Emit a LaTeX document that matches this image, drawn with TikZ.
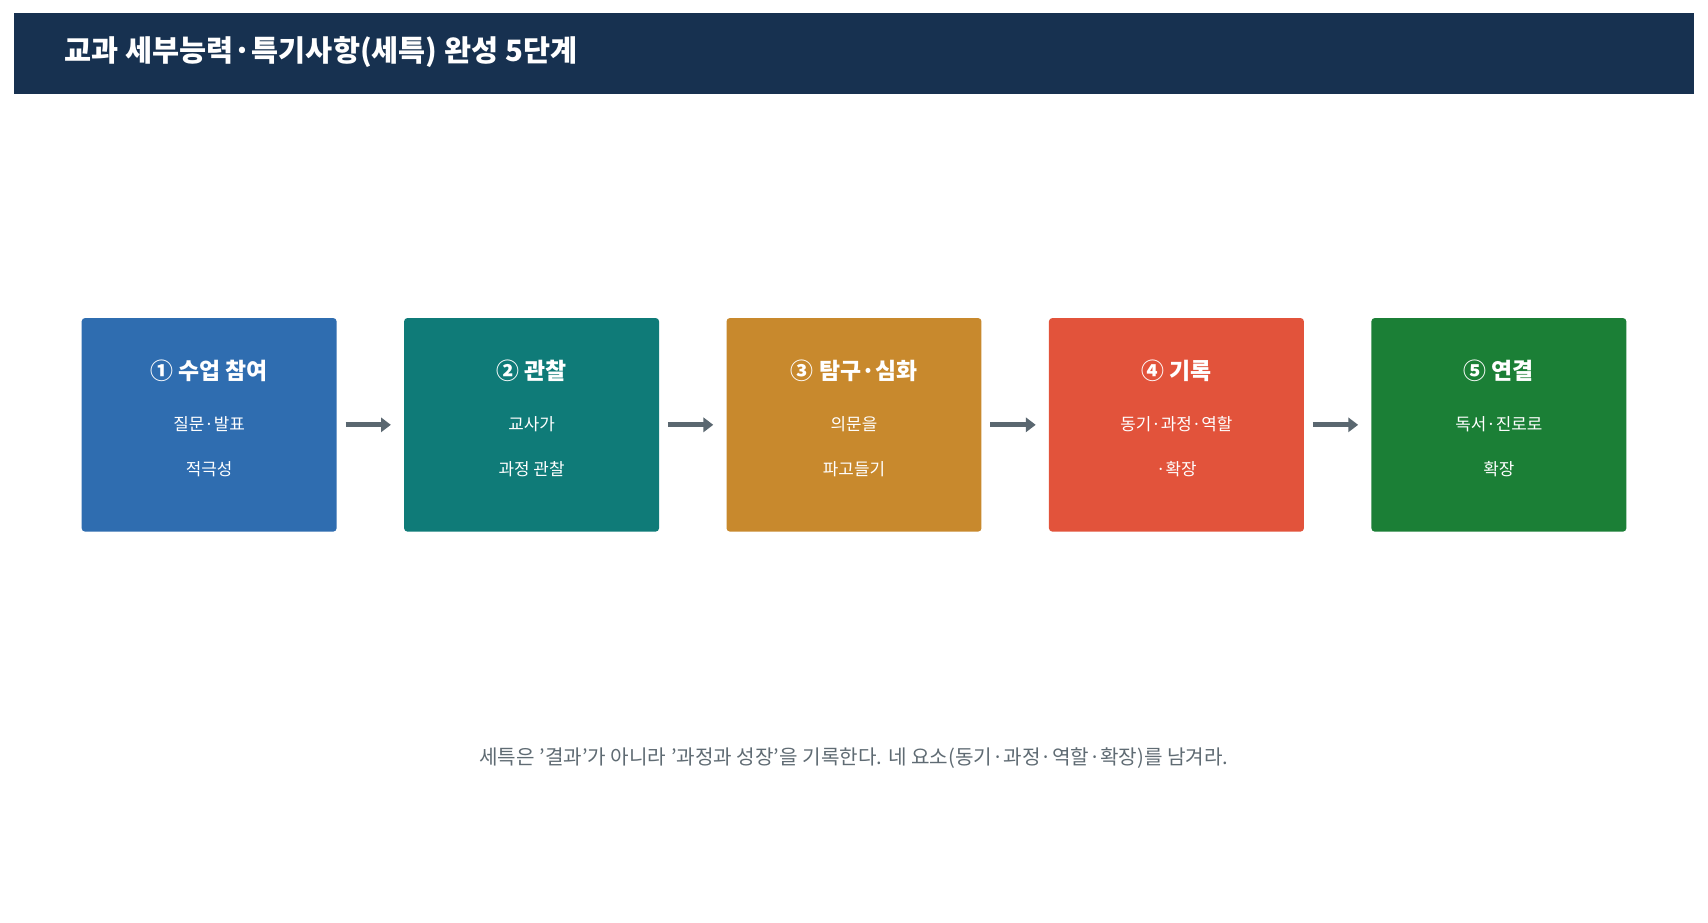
\documentclass[tikz,border=0pt]{standalone}
\usepackage{fontspec}
\setmainfont{Noto Sans CJK KR}
\usetikzlibrary{arrows.meta}
\definecolor{hdr}{HTML}{173150}
\definecolor{cA}{HTML}{2F6DB0}
\definecolor{cB}{HTML}{0F7B78}
\definecolor{cC}{HTML}{C8892D}
\definecolor{cD}{HTML}{E2533B}
\definecolor{cE}{HTML}{1B7F36}
\definecolor{arr}{HTML}{5A6770}
\definecolor{foot}{HTML}{5F6B73}
\begin{document}
\begin{tikzpicture}[x=1pt,y=-1pt,
  box/.style={rounded corners=3pt,minimum width=234pt,minimum height=196pt,inner sep=0pt},
  ttl/.style={text=white,font=\fontsize{21}{24}\selectfont\bfseries},
  sub/.style={text=white,font=\fontsize{15.5}{18}\selectfont},
  conn/.style={arr,line width=4.5pt,-{Triangle[length=9pt,width=13pt]}}]
\useasboundingbox (0,0) rectangle (1568,847);
\fill[white] (0,0) rectangle (1568,847);
\fill[hdr] (13,12) rectangle (1555,86);
\node[anchor=west,text=white,font=\fontsize{27}{30}\selectfont\bfseries] (title) at (56,48) {교과 세부능력·특기사항(세특) 완성 5단계};
\foreach \i/\x/\c/\t/\a/\b in {1/192/cA/① 수업 참여/질문·발표/적극성,2/488/cB/② 관찰/교사가/과정 관찰,3/784/cC/③ 탐구·심화/의문을/파고들기,4/1080/cD/④ 기록/동기·과정·역할/·확장,5/1376/cE/⑤ 연결/독서·진로로/확장}{
  \node[box,fill=\c] (b\i) at (\x,390) {};
  \node[ttl] (t\i) at (\x,340) {\t};
  \node[sub] (s\i) at (\x,389) {\a};
  \node[sub] (u\i) at (\x,431) {\b};
}
\foreach \i/\j in {1/2,2/3,3/4,4/5}{
  \draw[conn] ([xshift=8pt]b\i.east) -- ([xshift=-12pt]b\j.west);
}
\node[text=foot,font=\fontsize{18.5}{22}\selectfont] (note) at (784,696) {세특은 '결과'가 아니라 '과정과 성장'을 기록한다. 네 요소(동기·과정·역할·확장)를 남겨라.};
\end{tikzpicture}
\end{document}
